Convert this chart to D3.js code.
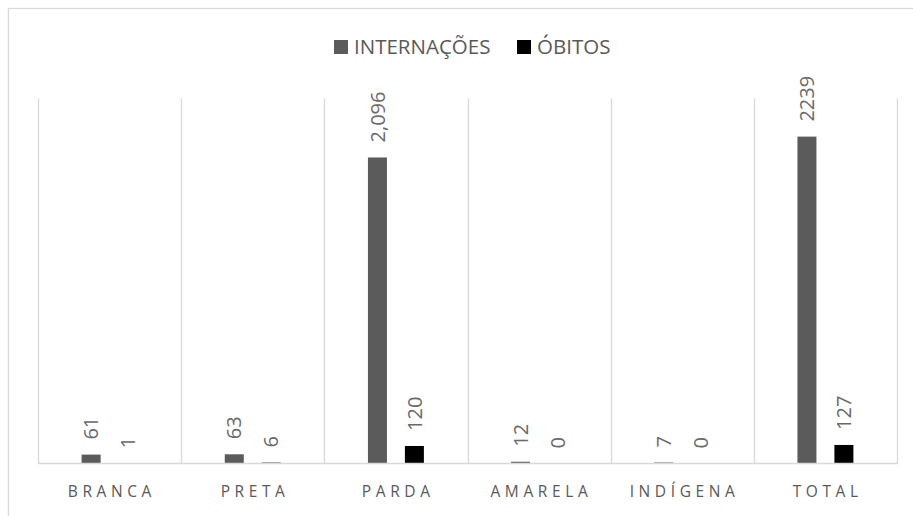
<!DOCTYPE html>
<html><head><meta charset="utf-8">
<script src="https://cdn.jsdelivr.net/npm/d3@7"></script>
<style>
html,body{margin:0;padding:0;background:#fff;}
svg{display:block;font-family:"Open Sans",sans-serif;}
</style></head>
<body><svg id="c" width="913" height="516"></svg>
<script>
const categories = ["BRANCA","PRETA","PARDA","AMARELA","INDÍGENA","TOTAL"];
const seriesNames = ["INTERNAÇÕES","ÓBITOS"];
const internacoes = [61,63,2096,12,7,2239];
const obitos = [1,6,120,0,0,127];
const internacoesLabels = ["61","63","2,096","12","7","2239"];
const obitosLabels = ["1","6","120","0","0","127"];
const colors = ["#5b5b5b","#000000"];

const svg = d3.select("#c");
const plotL=38, plotR=897, plotT=98.5, plotB=463.5;

// outer border
svg.append("rect").attr("x",8.5).attr("y",8.5).attr("width",920).attr("height",520)
  .attr("fill","none").attr("stroke","#d9d9d9").attr("stroke-width",1.3);

const x0 = d3.scaleBand().domain(categories).range([plotL,plotR]).padding(0);
const x1 = d3.scaleBand().domain(seriesNames).range([0,x0.bandwidth()]).paddingInner(0.486).paddingOuter(1.18);
const y = d3.scaleLinear().domain([0,2500]).range([plotB,plotT]);

// vertical gridlines
const bounds = categories.map(c=>x0(c)).concat([plotR]);
svg.append("g").selectAll("line").data(bounds).join("line")
  .attr("x1",d=>Math.round(d)+0.5).attr("x2",d=>Math.round(d)+0.5)
  .attr("y1",plotT).attr("y2",plotB)
  .attr("stroke","#d9d9d9").attr("stroke-width",1.3);

// bars
const rows = categories.map((c,i)=>({c, vals:[internacoes[i],obitos[i]], labs:[internacoesLabels[i],obitosLabels[i]]}));
const g = svg.append("g");
rows.forEach(r=>{
  seriesNames.forEach((s,j)=>{
    const v=r.vals[j];
    const bx = x0(r.c)+x1(s);
    g.append("rect").attr("x",bx).attr("width",x1.bandwidth())
      .attr("y",y(v)).attr("height",plotB-y(v)).attr("fill",colors[j]);
    const cx = bx + x1.bandwidth()/2;
    const ty = y(v)-15;
    g.append("text").attr("transform",`translate(${cx},${ty}) rotate(-90)`)
      .attr("dy","0.36em").attr("text-anchor","start")
      .attr("font-size",20).attr("fill","#6a6a6a").text(r.labs[j]);
  });
});

// baseline
svg.append("line").attr("x1",plotL).attr("x2",plotR+1).attr("y1",plotB).attr("y2",plotB)
  .attr("stroke","#d9d9d9").attr("stroke-width",1.3);

// x axis labels
const ls = 4.6;
svg.append("g").selectAll("text").data(categories).join("text")
  .attr("x",d=>x0(d)+x0.bandwidth()/2 + ls/2).attr("y",497)
  .attr("text-anchor","middle").attr("font-size",15.5).attr("letter-spacing",ls)
  .attr("fill","#595959").text(d=>d);

// legend
const leg = svg.append("g");
const legX = [334, 517];
seriesNames.forEach((s,j)=>{
  leg.append("rect").attr("x",legX[j]).attr("y",40).attr("width",14).attr("height",14).attr("fill",colors[j]);
  leg.append("text").attr("x",legX[j]+20).attr("y",53.5).attr("font-size",20.5)
    .attr("fill","#595959").text(s);
});
</script></body></html>
